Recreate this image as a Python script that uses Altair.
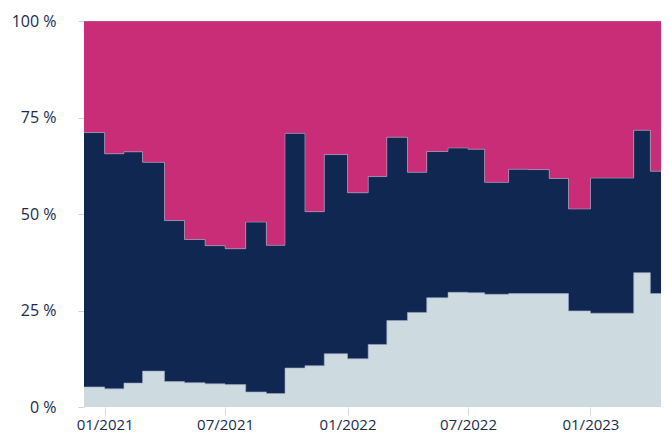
import altair as alt
import pandas as pd

# step start dates (each value holds until the next date)
dates = ["2020-12-01", "2021-01-01", "2021-01-30", "2021-02-27", "2021-04-01", "2021-05-01",
         "2021-06-01", "2021-07-01", "2021-08-01", "2021-09-01", "2021-09-29", "2021-10-29",
         "2021-11-27", "2022-01-01", "2022-02-01", "2022-03-01", "2022-04-01", "2022-04-30",
         "2022-06-01", "2022-07-01", "2022-07-26", "2022-08-31", "2022-09-30", "2022-10-31",
         "2022-11-29", "2023-01-01", "2023-03-07", "2023-04-01"]
end_date = "2023-05-01"

light = [5.2, 4.7, 6.2, 9.3, 6.6, 6.3, 6.0, 5.8, 3.9, 3.5, 10.1, 10.7, 13.8, 12.5,
         16.2, 22.4, 24.5, 28.3, 29.7, 29.6, 29.2, 29.4, 29.4, 29.4, 24.9, 24.3, 34.8, 29.4]
navy = [65.9, 60.9, 59.9, 54.1, 41.7, 37.1, 35.8, 35.2, 44.0, 38.4, 60.8, 39.9, 51.6, 43.0,
        43.5, 47.5, 36.3, 37.9, 37.4, 37.2, 29.0, 32.2, 32.1, 29.8, 26.4, 35.0, 36.9, 31.7]
magenta = [28.9, 34.4, 33.9, 36.6, 51.7, 56.6, 58.2, 59.0, 52.1, 58.1, 29.1, 49.4, 34.6, 44.5,
           40.3, 30.1, 39.2, 33.8, 32.9, 33.2, 41.8, 38.4, 38.5, 40.8, 48.7, 40.7, 28.3, 38.9]

series_names = ["Serie 1", "Serie 2", "Serie 3"]
series_colors = ["#cddae0", "#102851", "#c92d77"]
series_values = [light, navy, magenta]

x_ticks = ["2021-01-01", "2021-07-01", "2022-01-01", "2022-07-01", "2023-01-01"]
y_ticks = [0, 25, 50, 75, 100]

rows = []
all_dates = dates + [end_date]
for k, (name, vals) in enumerate(zip(series_names, series_values)):
    vv = vals + [vals[-1]]
    for d, v in zip(all_dates, vv):
        rows.append({"date": d, "series": name, "value": v, "order": k})
df = pd.DataFrame(rows)


def dt(s):
    y, m, d = map(int, s.split("-"))
    return alt.DateTime(year=y, month=m, date=d, utc=True)


text_color = "#1b2a4e"

x_enc = alt.X(
    "date:T",
    scale=alt.Scale(type="utc", domain=[dt("2020-12-01"), dt("2023-04-17")], nice=False),
    axis=alt.Axis(values=[dt(s) for s in x_ticks],
                  labelExpr="utcFormat(datum.value, '%m/%Y')",
                  title=None, grid=False, domain=False, tickColor="#d3dbe9",
                  tickSize=8, labelPadding=2, labelFont="Open Sans", labelFontSize=15,
                  labelColor=text_color),
)

base = alt.Chart(df).transform_stack(
    stack="value", as_=["y0", "y1"], groupby=["date"],
    sort=[alt.SortField("order", order="ascending")],
)

area = base.mark_area(interpolate="step-after", clip=True).encode(
    x=x_enc,
    y=alt.Y("y0:Q", scale=alt.Scale(domain=[0, 100], nice=False),
            axis=alt.Axis(values=y_ticks, labelExpr="datum.value + ' %'", title=None,
                          grid=False, domain=False, tickColor="#ccd3df", tickSize=6,
                          labelPadding=22, labelFont="Open Sans", labelFontSize=16,
                          labelColor=text_color)),
    y2="y1:Q",
    color=alt.Color("series:N", scale=alt.Scale(domain=series_names, range=series_colors),
                    legend=None),
    order=alt.Order("order:Q"),
)

edges = base.mark_line(interpolate="step-after", clip=True, strokeWidth=1,
                       color="#9aa4bf", opacity=0.6).encode(
    x=x_enc,
    y=alt.Y("y1:Q"),
    detail="series:N",
)

chart = (area + edges).properties(
    width=577, height=386,
    autosize=alt.AutoSizeParams(type="none"),
    padding={"left": 76, "top": 13, "right": 0, "bottom": 30},
).configure_view(stroke=None)

chart.save("out.html", embed_options={"renderer": "svg", "actions": False})
